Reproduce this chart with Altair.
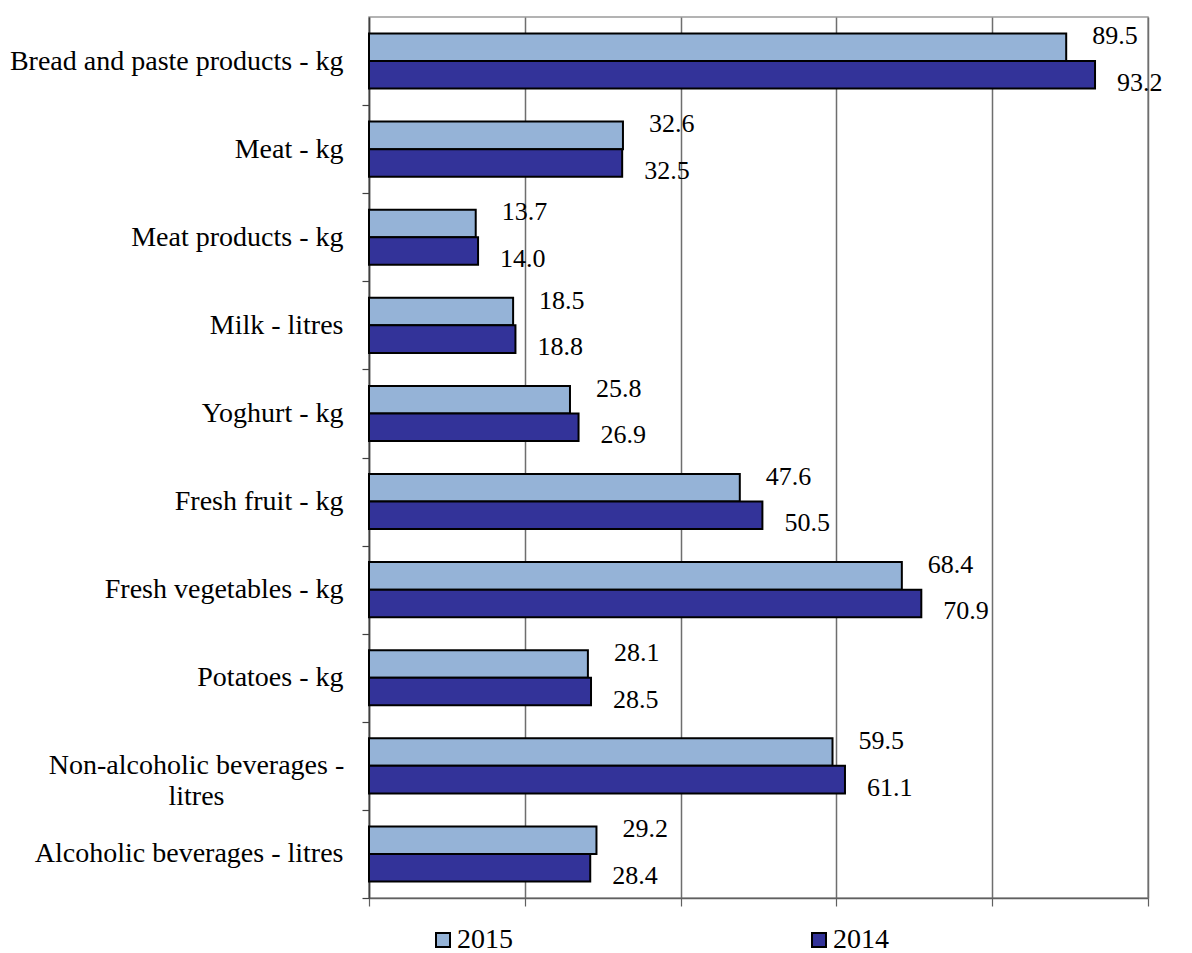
import altair as alt
import pandas as pd

# Average consumption per person, by product
categories = [
    "Bread and paste products - kg",
    "Meat - kg",
    "Meat products - kg",
    "Milk - litres",
    "Yoghurt - kg",
    "Fresh fruit - kg",
    "Fresh vegetables - kg",
    "Potatoes - kg",
    "Non-alcoholic beverages - litres",
    "Alcoholic beverages - litres",
]
values_2015 = [89.5, 32.6, 13.7, 18.5, 25.8, 47.6, 68.4, 28.1, 59.5, 29.2]
values_2014 = [93.2, 32.5, 14.0, 18.8, 26.9, 50.5, 70.9, 28.5, 61.1, 28.4]
years = ["2015", "2014"]
year_colors = ["#95B3D7", "#333399"]
x_ticks = [0, 20, 40, 60, 80, 100]

rows = []
for cat, v15, v14 in zip(categories, values_2015, values_2014):
    rows.append({"product": cat, "year": "2015", "value": v15})
    rows.append({"product": cat, "year": "2014", "value": v14})
df = pd.DataFrame(rows)

FONT = "Liberation Serif"
PLOT_H = 881
HALF_STEP = PLOT_H / len(categories) / 2
WRAPPED = "Non-alcoholic beverages - litres"
is_wrapped = f"datum.value == '{WRAPPED}'"

y_enc = alt.Y(
    "product:N",
    sort=categories,
    scale=alt.Scale(paddingInner=0.375, paddingOuter=0.1875),
    axis=alt.Axis(
        title=None,
        domainColor="#404040",
        domainWidth=1.5,
        tickColor="#404040",
        tickWidth=1.2,
        tickSize=7,
        tickOffset=HALF_STEP,
        labelOffset=-HALF_STEP,
        labelFont=FONT,
        labelFontSize=28,
        labelColor="black",
        labelAlign={"condition": {"test": is_wrapped, "value": "center"}, "value": "right"},
        labelPadding={"condition": {"test": is_wrapped, "value": 166}, "value": 19},
        labelLineHeight=31,
        labelLimit=400,
        labelExpr=f"{is_wrapped} ? ['Non-alcoholic beverages -', 'litres'] : datum.label",
    ),
)
y_off = alt.YOffset(
    "year:N", sort=years, scale=alt.Scale(domain=years, paddingInner=0, paddingOuter=0)
)
x_enc = alt.X(
    "value:Q",
    scale=alt.Scale(domain=[0, 100], nice=False),
    axis=alt.Axis(
        title=None,
        values=x_ticks,
        labels=False,
        grid=True,
        gridColor="#6e6e6e",
        gridWidth=1.5,
        domainColor="#606060",
        domainWidth=1.5,
        tickColor="#606060",
        tickWidth=1.2,
        tickSize=8,
    ),
)

bars = alt.Chart(df).mark_bar(stroke="black", strokeWidth=2).encode(
    y=y_enc,
    yOffset=y_off,
    x=x_enc,
    color=alt.Color(
        "year:N",
        sort=years,
        scale=alt.Scale(domain=years, range=year_colors),
        legend=alt.Legend(
            title=None,
            orient="none",
            legendX=60,
            legendY=909,
            direction="horizontal",
            columns=2,
            columnPadding=292,
            symbolType="square",
            symbolSize=196,
            symbolStrokeColor="black",
            symbolStrokeWidth=2,
            labelFont=FONT,
            labelFontSize=28,
            labelColor="black",
            labelOffset=0,
        ),
    ),
)

def value_labels(year, dx, dy):
    return (
        alt.Chart(df)
        .transform_filter(alt.datum.year == year)
        .mark_text(align="left", baseline="middle", dx=dx, dy=dy,
                   font=FONT, fontSize=26, color="black")
        .encode(
            y=alt.Y("product:N", sort=categories),
            yOffset=alt.YOffset("year:N", sort=years),
            x=alt.X("value:Q"),
            text=alt.Text("value:Q", format=".1f"),
        )
    )

chart = (
    alt.layer(bars, value_labels("2015", 26, -11), value_labels("2014", 22, 8))
    .properties(
        width=779,
        height=PLOT_H,
        autosize=alt.AutoSizeParams(type="none"),
        padding={"left": 369, "top": 17, "right": 44, "bottom": 55},
        background="white",
    )
    .configure_view(stroke="#9a9a9a", strokeWidth=1.5)
)

chart.save("out.html", embed_options={"renderer": "svg", "actions": False})
